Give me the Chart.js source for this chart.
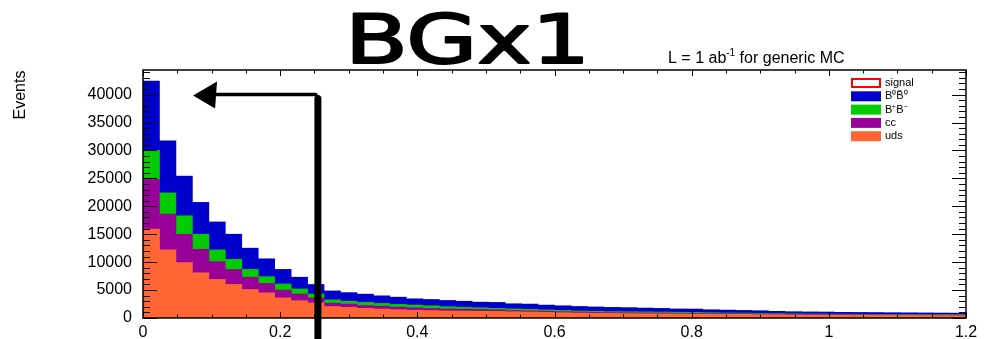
<!DOCTYPE html>
<html>
<head>
<meta charset="utf-8">
<script src="https://cdn.jsdelivr.net/npm/chart.js@4.4.0/dist/chart.umd.min.js"></script>
<style>
  html, body { margin: 0; padding: 0; background: #fff; }
  #wrap { width: 995px; height: 339px; position: relative; }
</style>
</head>
<body>
<div id="wrap"><canvas id="chartBG"></canvas></div>
<script>
// bin centres (50 bins of 0.024 from 0 to 1.2)
const binCenters = [
  0.012, 0.036, 0.060, 0.084, 0.108, 0.132, 0.156, 0.180, 0.204, 0.228,
  0.252, 0.276, 0.300, 0.324, 0.348, 0.372, 0.396, 0.420, 0.444, 0.468,
  0.492, 0.516, 0.540, 0.564, 0.588, 0.612, 0.636, 0.660, 0.684, 0.708,
  0.732, 0.756, 0.780, 0.804, 0.828, 0.852, 0.876, 0.900, 0.924, 0.948,
  0.972, 0.996, 1.020, 1.044, 1.068, 1.092, 1.116, 1.140, 1.164, 1.188
];

// events per bin, for each background component
const udsEvents = [
  15900, 12200, 9900, 8100, 6900, 6000, 5100, 4500, 3600, 3100,
  2700, 2050, 1900, 1720, 1600, 1480, 1380, 1320, 1260, 1220,
  1200, 1170, 1120, 1070, 1000, 950, 890, 840, 810, 780,
  760, 740, 720, 700, 680, 660, 640, 600, 580, 550,
  530, 520, 500, 490, 480, 470, 460, 450, 440, 430
];
const ccEvents = [
  8900, 6400, 5100, 4200, 3200, 2700, 2200, 1700, 1400, 1200,
  900, 600, 600, 530, 530, 480, 460, 400, 360, 360,
  340, 310, 240, 190, 190, 180, 180, 160, 150, 160,
  160, 160, 150, 150, 140, 130, 130, 120, 110, 100,
  100, 100, 100, 100, 90, 90, 90, 90, 90, 90
];
const bpbmEvents = [
  5200, 3800, 3300, 2700, 2100, 1800, 1400, 1200, 1100, 900,
  700, 600, 500, 550, 470, 470, 470, 470, 410, 350,
  300, 260, 260, 280, 250, 230, 190, 190, 180, 180,
  180, 170, 170, 150, 130, 110, 110, 110, 100, 90,
  90, 90, 90, 90, 90, 90, 80, 80, 80, 80
];
const b0b0Events = [
  12400, 9300, 7100, 5700, 5000, 4500, 3800, 3200, 2600, 2100,
  1700, 1600, 1550, 1470, 1370, 1300, 1130, 1130, 1110, 1070,
  1000, 1050, 930, 950, 870, 830, 810, 790, 760, 740,
  680, 650, 580, 600, 530, 520, 480, 470, 400, 390,
  370, 360, 330, 320, 320, 300, 300, 290, 280, 270
];

const xTicks = [0, 0.2, 0.4, 0.6, 0.8, 1, 1.2];
const yTicks = [0, 5000, 10000, 15000, 20000, 25000, 30000, 35000, 40000];

const legendItems = [
  { label: 'signal', fill: '#ffffff', stroke: '#ff0000' },
  { label: 'B\u2070B\u0304\u2070', fill: '#0000cc' },
  { label: 'B\u207AB\u207B', fill: '#00cc00' },
  { label: 'cc', fill: '#990099' },
  { label: 'uds', fill: '#ff6633' }
];

const FONT = '"Liberation Sans", Arial, Helvetica, sans-serif';

function toPoints(arr) {
  return arr.map((v, i) => ({ x: binCenters[i], y: v }));
}

// frame, inward ticks, legend, texts and the hand drawn marks
const rootStyle = {
  id: 'rootStyle',
  afterDatasetsDraw(chart) {
    const { ctx, chartArea: a, scales: { x, y } } = chart;
    ctx.save();
    ctx.strokeStyle = '#000';
    ctx.lineWidth = 1.5;
    ctx.strokeRect(a.left, a.top, a.right - a.left, a.bottom - a.top);

    ctx.lineWidth = 1;
    ctx.beginPath();
    for (let k = 0; k <= 24; k++) {
      const v = k * 0.05;
      const px = Math.round(x.getPixelForValue(v)) + 0.5;
      const len = (k % 4 === 0) ? 6 : 3.5;
      ctx.moveTo(px, a.bottom); ctx.lineTo(px, a.bottom - len);
      ctx.moveTo(px, a.top); ctx.lineTo(px, a.top + len);
    }
    for (let v = 0; v <= y.max; v += 1000) {
      const py = Math.round(y.getPixelForValue(v)) + 0.5;
      const len = (v % 5000 === 0) ? 14 : 7;
      ctx.moveTo(a.left, py); ctx.lineTo(a.left + len, py);
      ctx.moveTo(a.right, py); ctx.lineTo(a.right - len, py);
    }
    ctx.stroke();

    // legend
    ctx.font = '11px ' + FONT;
    ctx.textBaseline = 'middle';
    ctx.textAlign = 'left';
    legendItems.forEach((it, i) => {
      const cy = 83 + i * 13.3;
      ctx.fillStyle = it.fill;
      ctx.fillRect(851, cy - 5, 30, 10);
      if (it.stroke) {
        ctx.strokeStyle = it.stroke;
        ctx.lineWidth = 2;
        ctx.strokeRect(852, cy - 4, 28, 8);
      }
      ctx.fillStyle = '#000';
      ctx.fillText(it.label, 885, cy);
    });

    // y title
    ctx.save();
    ctx.translate(25, 95);
    ctx.rotate(-Math.PI / 2);
    ctx.font = '16px ' + FONT;
    ctx.textAlign = 'center';
    ctx.textBaseline = 'alphabetic';
    ctx.fillText('Events', 0, 0);
    ctx.restore();

    // luminosity label
    ctx.textBaseline = 'alphabetic';
    ctx.font = '16px ' + FONT;
    let tx = 668;
    ctx.fillText('L = 1 ab', tx, 63);
    tx += ctx.measureText('L = 1 ab').width;
    ctx.font = '10px ' + FONT;
    ctx.fillText('-1', tx, 56);
    tx += ctx.measureText('-1').width;
    ctx.font = '16px ' + FONT;
    ctx.fillText(' for generic MC', tx, 63);

    // hand written title
    ctx.save();
    ctx.font = '68px "DejaVu Sans", sans-serif';
    const w = ctx.measureText('BGx1').width;
    ctx.translate(345, 63);
    ctx.scale(245 / w, 1);
    ctx.lineWidth = 2;
    ctx.strokeStyle = '#000';
    ctx.lineJoin = 'round';
    ctx.fillText('BGx1', 0, 0);
    ctx.strokeText('BGx1', 0, 0);
    ctx.restore();

    // hand drawn cut line and arrow
    const cutX = x.getPixelForValue(0.255);
    const tipX = x.getPixelForValue(0.073);
    const arrowY = y.getPixelForValue(40000);
    ctx.strokeStyle = '#000';
    ctx.lineCap = 'round';
    ctx.lineWidth = 7;
    ctx.beginPath();
    ctx.moveTo(cutX, arrowY + 4);
    ctx.lineTo(cutX, chart.height);
    ctx.stroke();
    ctx.lineWidth = 3.5;
    ctx.beginPath();
    ctx.moveTo(cutX - 2, arrowY);
    ctx.lineTo(tipX + 20, arrowY);
    ctx.stroke();
    ctx.fillStyle = '#000';
    ctx.beginPath();
    ctx.moveTo(tipX, arrowY + 1);
    ctx.lineTo(tipX + 24, arrowY - 13);
    ctx.lineTo(tipX + 22, arrowY + 14);
    ctx.closePath();
    ctx.fill();
    ctx.restore();
  }
};

const ctx = document.getElementById('chartBG').getContext('2d');

const config = {
  type: 'bar',
  data: {
    datasets: [
      { label: 'uds', data: toPoints(udsEvents), backgroundColor: '#ff6633' },
      { label: 'cc', data: toPoints(ccEvents), backgroundColor: '#990099' },
      { label: 'B+B-', data: toPoints(bpbmEvents), backgroundColor: '#00cc00' },
      { label: 'B0B0', data: toPoints(b0b0Events), backgroundColor: '#0000cc' }
    ]
  },
  options: {
    responsive: true,
    maintainAspectRatio: false,
    animation: false,
    devicePixelRatio: 1,
    datasets: {
      bar: { barPercentage: 1, categoryPercentage: 1, borderWidth: 0 }
    },
    layout: { padding: { top: 70, right: 29, left: 0, bottom: 0 } },
    plugins: { legend: { display: false }, tooltip: { enabled: false } },
    scales: {
      x: {
        type: 'linear', min: 0, max: 1.2, stacked: true, offset: false,
        grid: { display: false, drawTicks: false },
        border: { display: false },
        afterBuildTicks: s => { s.ticks = xTicks.map(v => ({ value: v })); },
        ticks: {
          padding: 5, color: '#000', maxRotation: 0, autoSkip: false,
          font: { family: FONT, size: 16 },
          callback: v => String(Math.round(v * 10) / 10)
        },
        afterFit: s => { s.height = 21; }
      },
      y: {
        min: 0, max: 44400, stacked: true,
        grid: { display: false, drawTicks: false },
        border: { display: false },
        afterBuildTicks: s => { s.ticks = yTicks.map(v => ({ value: v })); },
        ticks: {
          padding: 11, color: '#000',
          font: { family: FONT, size: 16 },
          callback: v => String(v)
        },
        afterFit: s => { s.width = 143; }
      }
    }
  },
  plugins: [rootStyle]
};

new Chart(ctx, config);
</script>
</body>
</html>
